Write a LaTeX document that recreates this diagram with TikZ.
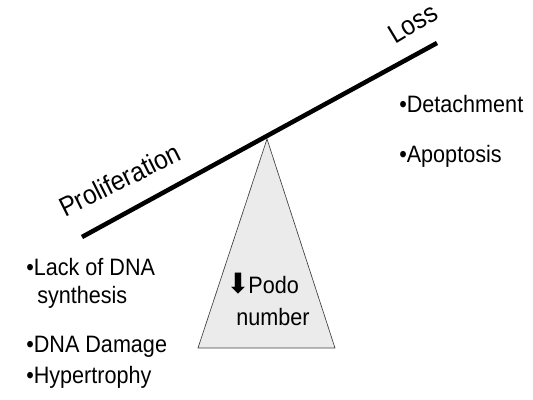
\documentclass[tikz,border=0pt]{standalone}
\usepackage{fontspec}
\setmainfont{Liberation Sans}[FakeStretch=0.91]
\newfontfamily\symfont{DejaVu Sans}
\usepackage{tikz}
\usetikzlibrary{positioning}

\tikzset{
  item/.style={anchor=base west, inner sep=0pt, font=\fontsize{17.8}{21}\selectfont},
  side/.style={anchor=base west, inner sep=0pt, font=\fontsize{20.3}{24}\selectfont},
  fulcrum/.style={draw=black!75, line width=0.5pt, fill=black!8},
  beam/.style={line width=3.4pt, line cap=butt}
}

\begin{document}
\begin{tikzpicture}[x=0.75pt, y=-0.75pt]
  \useasboundingbox (0,0) rectangle (533,400);

  % balance
  \coordinate (apex) at (267,139);
  \coordinate (baseL) at (198,348);
  \coordinate (baseR) at (335,348);
  \coordinate (beamL) at (82,237);
  \coordinate (beamR) at (437,43);

  \draw[fulcrum] (apex) -- (baseR) -- (baseL) -- cycle;
  \draw[beam] (beamL) -- (beamR);

  \node[side, rotate=26.5] (prolif) at (65,218) {Proliferation};
  \node[side, rotate=31] (loss) at (395,45) {Loss};

  \node[item] (podo) at (226,293) {{\symfont\fontsize{21}{22}\selectfont ⬇}\kern-1pt Podo};
  \node[item] (num) at (236,325) {number};

  % right side
  \node[item] (detach) at (399,112) {•Detachment};
  \node[item] (apopt) at (399,162) {•Apoptosis};

  % left side
  \node[item] (lack) at (26,275) {•Lack of DNA};
  \node[item] (synth) at (37,303) {synthesis};
  \node[item] (damage) at (26,352) {•DNA Damage};
  \node[item] (hyper) at (26,383) {•Hypertrophy};
\end{tikzpicture}
\end{document}
